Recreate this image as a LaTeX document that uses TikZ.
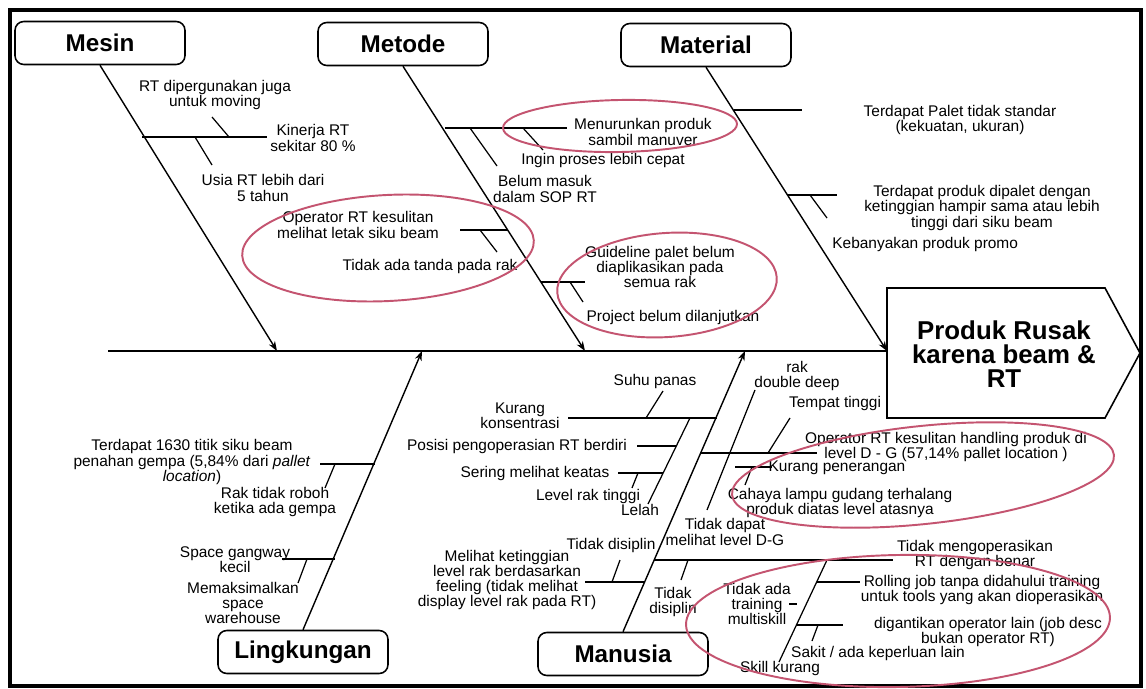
\documentclass[tikz,border=0pt]{standalone}
\usepackage{fontspec}
\setmainfont{Liberation Sans}
\usetikzlibrary{arrows.meta}
\definecolor{ringred}{RGB}{196,84,112}
\begin{document}
\begin{tikzpicture}[x=0.02cm,y=-0.02cm,
  bone/.style={line width=0.8pt,-{Stealth[length=5.5pt,width=4pt]}},
  twig/.style={line width=0.7pt},
  lbl/.style={font=\fontsize{8.8}{8.6}\selectfont,align=center,inner sep=0pt},
  cat/.style={draw,line width=0.9pt,rounded corners=5pt,minimum width=3.4cm,
    minimum height=0.86cm,inner sep=0pt,font=\fontsize{13.8}{14}\selectfont\bfseries},
  ring/.style={draw=ringred,line width=1.1pt}]
\useasboundingbox (0,0) rectangle (1146,689);
\fill[white] (0,0) rectangle (1146,689);
\draw[line width=1.8pt] (10,10) rectangle (1141,686);

% effect (head of the fish)
\draw[line width=0.9pt] (887,288) -- (1105,288) -- (1140,353) -- (1105,418) -- (887,418) -- cycle;
\node[font=\fontsize{14.7}{13.8}\selectfont\bfseries,align=center] (effect) at (1004,354)
  {Produk Rusak\\karena beam \&\\RT};
\coordinate (head) at (887,351);
\coordinate (tail) at (108,351);
\draw[line width=0.9pt] (tail) -- (head);

% category boxes
\node[cat] (mesin) at (100,43) {Mesin};
\node[cat] (metode) at (403,44) {Metode};
\node[cat] (material) at (706,45) {Material};
\node[cat] (lingk) at (303,652) {Lingkungan};
\node[cat] (manusia) at (623,654) {Manusia};

% junctions on the spine
\coordinate (jMesin) at (277,351);
\coordinate (jMetode) at (585,351);
\coordinate (jLingk) at (422,351);
\coordinate (jManusia) at (745,351);

\draw[bone] (mesin.south) -- (jMesin);
\draw[bone] (metode.south) -- (jMetode);
\draw[bone] (material.south) -- (head);
\draw[bone] (lingk.north) -- (jLingk);
\draw[bone] (manusia.north) -- (jManusia);

% Mesin
\draw[twig] (142,137) -- (267,137);
\draw[twig] (229,137) -- (212,117);
\draw[twig] (195,137) -- (212,165);
\node[lbl] (m1) at (215,95) {RT dipergunakan juga\\untuk moving};
\node[lbl] (m2) at (313,138) {Kinerja RT\\sekitar 80 \%};
\node[lbl] (m3) at (263,188) {Usia RT lebih dari\\5 tahun};

% Metode
\draw[twig] (445,128) -- (567,128);
\draw[twig] (470,128) -- (497,166);
\draw[twig] (523,128) -- (543,150);
\draw[twig] (460,230) -- (508,230);
\draw[twig] (480,230) -- (497,252);
\draw[twig] (541,282) -- (585,282);
\draw[twig] (570,282) -- (583,302);
\node[lbl] (d1) at (643,132) {Menurunkan produk\\sambil manuver};
\node[lbl] (d2) at (603,161) {Ingin proses lebih cepat};
\node[lbl] (d3) at (545,189) {Belum masuk\\dalam SOP RT};
\node[lbl] (d4) at (358,225) {Operator RT kesulitan\\melihat letak siku beam};
\node[lbl] (d5) at (430,267) {Tidak ada tanda pada rak};
\node[lbl] (d6) at (660,267) {Guideline palet belum\\diaplikasikan pada\\semua rak};
\node[lbl] (d7) at (673,318) {Project belum dilanjutkan};

% Material
\draw[twig] (734,110) -- (802,110);
\draw[twig] (788,195) -- (837,195);
\draw[twig] (810,195) -- (827,218);
\node[lbl] (a1) at (960,120) {Terdapat Palet tidak standar\\(kekuatan, ukuran)};
\node[lbl] (a2) at (982,208) {Terdapat produk dipalet dengan\\ketinggian hampir sama atau lebih\\tinggi dari siku beam};
\node[lbl,anchor=west] (a3) at (832,245) {Kebanyakan produk promo};

% Lingkungan
\draw[twig] (320,464) -- (375,464);
\draw[twig] (335,464) -- (325,488);
\draw[twig] (282,559) -- (335,559);
\draw[twig] (307,559) -- (298,583);
\node[lbl] (l1) at (192,462) {Terdapat 1630 titik siku beam\\penahan gempa (5,84\% dari \textit{pallet}\\\textit{location})};
\node[lbl] (l2) at (275,502) {Rak tidak roboh\\ketika ada gempa};
\node[lbl] (l3) at (235,560) {Space gangway\\kecil};
\node[lbl] (l4) at (243,603) {Memaksimalkan\\space\\warehouse};

% Manusia
\draw[twig] (568,418) -- (717,418);
\draw[twig] (646,418) -- (663,391);
\draw[twig] (690,418) -- (648,504);
\draw[twig] (637,446) -- (676,446);
\draw[twig] (618,473) -- (663,473);
\draw[twig] (638,473) -- (632,488);
\draw[twig] (701,453) -- (817,453);
\draw[twig] (755,390) -- (707,510);
\draw[twig] (790,418) -- (768,453);
\draw[twig] (735,467) -- (772,467);
\draw[twig] (752,467) -- (745,485);
\draw[twig] (654,560) -- (893,560);
\draw[twig] (585,582) -- (645,582);
\draw[twig] (612,582) -- (620,560);
\draw[twig] (688,560) -- (681,580);
\draw[twig] (827,560) -- (779,662);
\draw[twig] (817,582) -- (860,582);
\draw[twig] (789,604) -- (797,604);
\draw[twig] (797,625) -- (843,625);
\draw[twig] (818,625) -- (812,641);
\node[lbl] (h1) at (655,382) {Suhu panas};
\node[lbl] (h2) at (520,416) {Kurang\\konsentrasi};
\node[lbl] (h3) at (517,446) {Posisi pengoperasian RT berdiri};
\node[lbl] (h4) at (535,473) {Sering melihat keatas};
\node[lbl] (h5) at (588,496) {Level rak tinggi};
\node[lbl] (h6) at (640,510) {Lelah};
\node[lbl] (h7) at (797,376) {rak\\double deep};
\node[lbl] (h8) at (835,404) {Tempat tinggi};
\node[lbl] (h9) at (946,447) {Operator RT kesulitan handling produk di\\level D - G (57,14\% pallet location )};
\node[lbl] (h10) at (837,468) {Kurang penerangan};
\node[lbl] (h11) at (840,503) {Cahaya lampu gudang terhalang\\produk diatas level atasnya};
\node[lbl] (h12) at (725,532) {Tidak dapat\\melihat level D-G};
\node[lbl] (h13) at (611,546) {Tidak disiplin};
\node[lbl] (h14) at (507,580) {Melihat ketinggian\\level rak berdasarkan\\feeling (tidak melihat\\display level rak pada RT)};
\node[lbl] (h15) at (673,602) {Tidak\\disiplin};
\node[lbl] (h16) at (757,604) {Tidak ada\\training\\multiskill};
\node[lbl] (h17) at (975,555) {Tidak mengoperasikan\\RT dengan benar};
\node[lbl] (h18) at (982,590) {Rolling job tanpa didahului training\\untuk tools yang akan dioperasikan};
\node[lbl] (h19) at (988,632) {digantikan operator lain (job desc\\bukan operator RT)};
\node[lbl] (h20) at (878,653) {Sakit / ada keperluan lain};
\node[lbl] (h21) at (780,668) {Skill kurang};

% highlighted causes
\draw[ring,rotate around={1:(620,126)}] (620,126) ellipse [x radius=117,y radius=26];
\draw[ring,rotate around={3:(388,248)}] (388,248) ellipse [x radius=146,y radius=53];
\draw[ring,rotate around={4:(667,285)}] (667,285) ellipse [x radius=110,y radius=52];
\draw[ring,rotate around={6:(923,475)}] (923,475) ellipse [x radius=192,y radius=49];
\draw[ring,rotate around={1:(898,621)}] (898,621) ellipse [x radius=212,y radius=66];
\end{tikzpicture}
\end{document}
